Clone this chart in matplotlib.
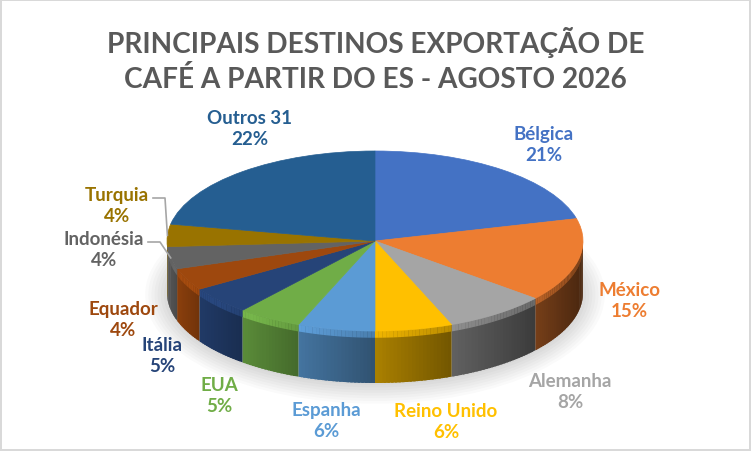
import numpy as np
import matplotlib
matplotlib.use('Agg')
from matplotlib import pyplot as plt
from matplotlib.patches import Ellipse

plt.rcParams['font.family'] = ['Lato', 'DejaVu Sans']

# data
countries = ['Bélgica', 'México', 'Alemanha', 'Reino Unido', 'Espanha', 'EUA',
             'Itália', 'Equador', 'Indonésia', 'Turquia', 'Outros 31']
shares = [21, 15, 8, 6, 6, 5, 5, 4, 4, 4, 22]
colors = ['#4472C4', '#ED7D31', '#A5A5A5', '#FFC000', '#5B9BD5', '#70AD47',
          '#264478', '#9E480E', '#636363', '#997300', '#255E91']
title = 'PRINCIPAIS DESTINOS EXPORTAÇÃO DE\nCAFÉ A PARTIR DO ES - AGOSTO 2026'

# layout (pixels)
W, H = 751, 452
CX, CY, RX, RY = 375, 242, 208, 90
DEPTH = 52
label_px = [(544, 145), (629, 301), (570, 392), (446, 422), (326, 421), (219, 396),
            (162, 356), (123, 320), (104, 250), (117, 206), (250, 129)]
leader = {'Turquia': (153, 199), 'Indonésia': (148, 243)}


def px(x, y):
    return (x - CX) / RX, (CY - y) / RY


fig = plt.figure(figsize=(W / 100, H / 100), dpi=100, edgecolor='#D9D9D9', linewidth=1.5)
ax = fig.add_axes([0, 0, 1, 1])

D = DEPTH / RY

# soft shadow under the pie
for k in range(8):
    ax.add_patch(Ellipse((0, -D - 0.02), 2.0 + 0.03 * k, 2.0 + 0.06 * k,
                         facecolor='black', alpha=0.02, lw=0, zorder=0))

# side walls of the 3D pie
total = sum(shares)
cum = np.concatenate([[0], np.cumsum(shares)])
theta = 90 - 360 * cum / total
step = np.radians(1.0)
for i, c in enumerate(colors):
    t0, t1 = min(theta[i], 0), max(theta[i + 1], -180)
    if t0 <= t1:
        continue
    ang = np.radians(np.linspace(t0, t1, max(int(t0 - t1), 2) + 1))
    xs = np.cos(ang)
    rgb = np.array(matplotlib.colors.to_rgb(c))
    last = len(ang) - 2
    for j, (a, b) in enumerate(zip(ang[:-1], ang[1:])):
        xm = (np.cos(a) + np.cos(b)) / 2
        t = (xm - xs.min()) / max(xs.max() - xs.min(), 1e-6)
        f = 0.6 - 0.22 * xm - 0.14 * (t - 0.5)
        col = np.clip(rgb * f, 0, 1)
        hi = np.clip(rgb * min(f + 0.28, 1.05), 0, 1)
        if j < last:
            b = b - step * 0.7  # overlap next strip to hide seams
        xq = [np.cos(a), np.cos(b), np.cos(b), np.cos(a)]
        ya, yb = np.sin(a), np.sin(b)
        ax.fill(xq, [ya, yb, yb - D, ya - D], facecolor=col, lw=0, zorder=1)
        ax.fill(xq, [ya, yb, yb - D * 0.13, ya - D * 0.13],
                facecolor=hi, lw=0, zorder=1)

# top face
wedges, _ = ax.pie(shares, colors=colors, startangle=90, counterclock=False,
                   radius=1, center=(0, 0))
for w in wedges:
    w.set_edgecolor(w.get_facecolor())
    w.set_linewidth(0.5)
    w.set_zorder(2)

ax.set_aspect('auto')
ax.set_xlim(-CX / RX, (W - CX) / RX)
ax.set_ylim((CY - H) / RY, CY / RY)
ax.axis('off')

# labels
for name, s, c, (lx, ly) in zip(countries, shares, colors, label_px):
    x, y = px(lx, ly)
    ax.text(x, y, f'{name}\n{s}%', color=c, fontsize=13.5, fontweight='bold',
            ha='center', va='center', linespacing=1.3, zorder=3)

# leader lines
for name, (lx, ly) in leader.items():
    i = countries.index(name)
    mid = np.radians((theta[i] + theta[i + 1]) / 2)
    ex, ey = np.cos(mid), np.sin(mid)
    x0, y0 = px(lx, ly)
    x1 = x0 + 12 / RX
    ax.plot([x0, x1, ex], [y0, y0, ey], color='#A6A6A6', lw=1.2, zorder=3)

fig.text(0.5, 1 - 60 / H, title, ha='center', va='center', fontsize=20.2,
         fontweight='bold', color='#595959', linespacing=1.33)

fig.savefig('out.png', dpi=100, edgecolor=fig.get_edgecolor())
